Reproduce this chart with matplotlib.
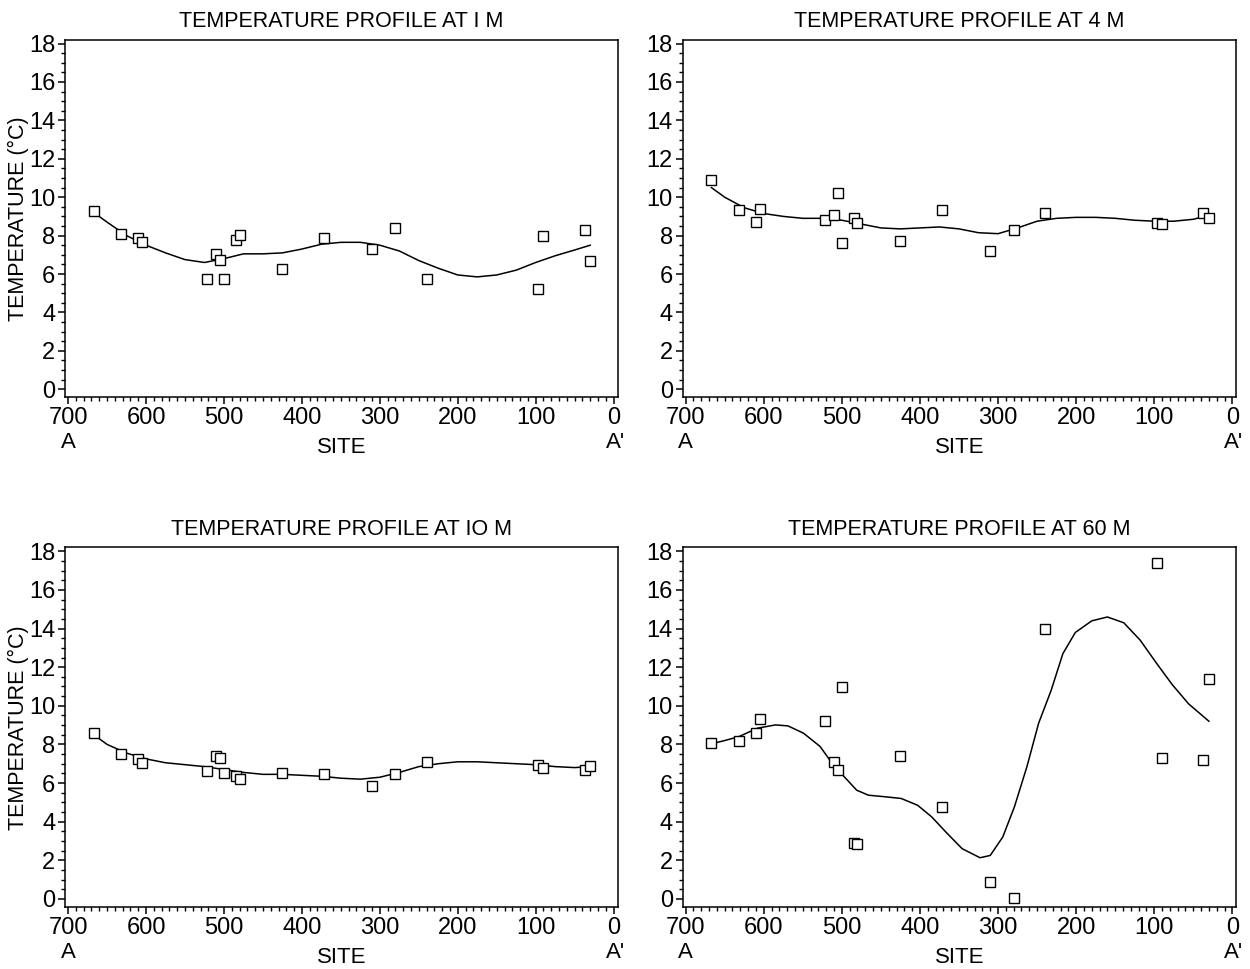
import numpy as np
import matplotlib
matplotlib.use('Agg')
import matplotlib.pyplot as plt
from matplotlib.ticker import MultipleLocator

plt.rcParams['font.family'] = ['Liberation Sans', 'DejaVu Sans']

# site positions along the A-A' section (same sites at every depth)
SITES = [667, 632, 610, 605, 522, 510, 505, 500, 485, 480,
         425, 372, 310, 280, 240, 97, 90, 37, 30]

T_1M = [9.3, 8.1, 7.85, 7.65, 5.75, 7.05, 6.75, 5.75, 7.75, 8.05,
        6.25, 7.9, 7.3, 8.4, 5.75, 5.2, 8.0, 8.3, 6.7]
T_4M = [10.9, 9.35, 8.7, 9.4, 8.8, 9.05, 10.2, 7.6, 8.9, 8.65,
        7.7, 9.35, 7.2, 8.3, 9.2, 8.65, 8.6, 9.2, 8.9]
T_10M = [8.6, 7.5, 7.25, 7.05, 6.6, 7.4, 7.3, 6.5, 6.35, 6.2,
         6.5, 6.45, 5.85, 6.45, 7.1, 6.95, 6.8, 6.7, 6.9]
T_60M = [8.05, 8.2, 8.6, 9.3, 9.2, 7.1, 6.7, 10.95, 2.9, 2.85,
         7.4, 4.75, 0.85, 0.05, 14.0, 17.4, 7.3, 7.2, 11.4]

# smoothed curves
CURVE_X = [667, 650, 625, 600, 575, 550, 525, 500, 475, 450, 425, 400,
           375, 350, 325, 300, 275, 250, 225, 200, 175, 150, 125, 100,
           75, 50, 30]
CURVE_1M = [9.2, 8.7, 8.0, 7.5, 7.1, 6.75, 6.6, 6.8, 7.05, 7.05, 7.1, 7.3,
            7.55, 7.65, 7.65, 7.5, 7.2, 6.7, 6.3, 5.95, 5.85, 5.95, 6.2, 6.6,
            6.95, 7.25, 7.5]
CURVE_4M = [10.5, 10.0, 9.45, 9.15, 9.0, 8.9, 8.9, 8.8, 8.6, 8.4, 8.35, 8.4,
            8.45, 8.35, 8.15, 8.1, 8.4, 8.75, 8.9, 8.95, 8.95, 8.9, 8.8, 8.75,
            8.75, 8.85, 9.05]
CURVE_10M = [8.5, 8.0, 7.55, 7.25, 7.05, 6.95, 6.85, 6.7, 6.55, 6.45, 6.45, 6.4,
             6.35, 6.25, 6.2, 6.3, 6.55, 6.85, 7.0, 7.1, 7.1, 7.05, 7.0, 6.95,
             6.85, 6.8, 6.85]

CURVE_X60 = [668, 650, 632, 608, 585, 569, 549, 528, 512, 497, 481, 466, 445,
             424, 403, 385, 367, 346, 323, 310, 294, 279, 263, 248, 232, 217,
             201, 180, 160, 139, 118, 97, 77, 56, 30]
CURVE_60M = [8.02, 8.2, 8.4, 8.84, 9.01, 8.96, 8.58, 7.9, 7.0, 6.33, 5.63, 5.37,
             5.29, 5.2, 4.85, 4.25, 3.47, 2.6, 2.13, 2.25, 3.2, 4.77, 6.85, 9.1,
             10.8, 12.7, 13.8, 14.4, 14.6, 14.3, 13.4, 12.2, 11.1, 10.1, 9.2]

PANELS = [
    ('TEMPERATURE PROFILE AT I M', T_1M, CURVE_X, CURVE_1M),
    ('TEMPERATURE PROFILE AT 4 M', T_4M, CURVE_X, CURVE_4M),
    ('TEMPERATURE PROFILE AT IO M', T_10M, CURVE_X, CURVE_10M),
    ('TEMPERATURE PROFILE AT 60 M', T_60M, CURVE_X60, CURVE_60M),
]

# axes rectangles in figure fractions (left, bottom, width, height)
RECTS = [
    (0.052, 0.590, 0.442, 0.369),
    (0.546, 0.590, 0.443, 0.369),
    (0.052, 0.064, 0.442, 0.371),
    (0.546, 0.064, 0.443, 0.371),
]

fig = plt.figure(figsize=(12.5, 9.69), dpi=100)

for i, ((title, temps, cx, cy), rect) in enumerate(zip(PANELS, RECTS)):
    ax = fig.add_axes(rect)
    ax.plot(cx, cy, color='black', lw=1.1)
    ax.plot(SITES, temps, ls='none', marker='s', ms=6.5, mfc='white',
            mec='black', mew=1.0)
    ax.set_xlim(704, -5)
    ax.set_ylim(-0.42, 18.2)
    ax.xaxis.set_major_locator(MultipleLocator(100))
    ax.xaxis.set_minor_locator(MultipleLocator(10))
    ax.yaxis.set_major_locator(MultipleLocator(2))
    ax.yaxis.set_minor_locator(MultipleLocator(0.5))
    ax.tick_params(which='major', direction='out', length=5, width=1.1,
                   labelsize=17, pad=2)
    ax.tick_params(which='minor', direction='out', length=3, width=1.0)
    for sp in ax.spines.values():
        sp.set_linewidth(1.1)
    ax.set_title(title, fontsize=15.5, pad=9)
    ax.set_xlabel('SITE', fontsize=16, labelpad=6)
    if i % 2 == 0:
        ax.set_ylabel('TEMPERATURE (°C)', fontsize=15.5)
        ax.yaxis.set_label_coords(-0.066, 0.5)
    ax.text(700, -0.098, 'A', transform=ax.get_xaxis_transform(),
            ha='center', va='top', fontsize=16)
    ax.text(-2, -0.098, "A'", transform=ax.get_xaxis_transform(),
            ha='center', va='top', fontsize=16)

fig.savefig('out.png', dpi=100)
